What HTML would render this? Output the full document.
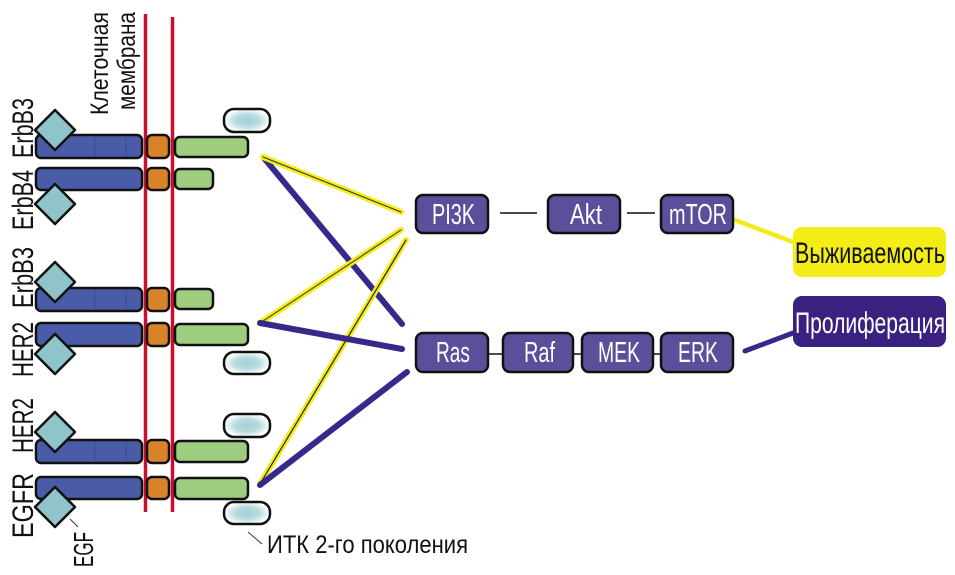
<!DOCTYPE html>
<html>
<head>
<meta charset="utf-8">
<style>
html,body{margin:0;padding:0;background:#fff;}
svg{display:block;}
text{font-family:"Liberation Sans Narrow","Liberation Sans",sans-serif;}
</style>
</head>
<body>
<svg width="955" height="575" viewBox="0 0 955 575" xmlns="http://www.w3.org/2000/svg">
<defs>
<radialGradient id="pg" cx="50%" cy="50%" r="50%">
<stop offset="0%" stop-color="#a4cfd6"/>
<stop offset="55%" stop-color="#b9dce0"/>
<stop offset="100%" stop-color="#ffffff"/>
</radialGradient>
</defs>

<!-- membrane -->
<line x1="145.5" y1="14" x2="145.5" y2="512" stroke="#c8102e" stroke-width="3.5"/>
<line x1="172.5" y1="17" x2="172.5" y2="512" stroke="#c8102e" stroke-width="3.5"/>

<g stroke="#111" stroke-width="2.5">
<!-- Row 1 ErbB3 -->
<rect x="36" y="135" width="106" height="23" rx="5" fill="#4a5ca8"/>
<line x1="95" y1="137" x2="95" y2="156" stroke="#3a4a95" stroke-width="1"/>
<line x1="126" y1="137" x2="126" y2="156" stroke="#3a4a95" stroke-width="1"/>
<rect x="147" y="135" width="22" height="23" rx="5" fill="#d8832a"/>
<rect x="175" y="137" width="73" height="20" rx="5" fill="#9fcd80"/>
<!-- Row 2 ErbB4 -->
<rect x="36" y="168" width="106" height="22" rx="5" fill="#4a5ca8"/>
<rect x="147" y="168" width="22" height="22" rx="5" fill="#d8832a"/>
<rect x="175" y="169" width="38" height="20" rx="5" fill="#9fcd80"/>
<!-- Row 3 ErbB3 -->
<rect x="36" y="288" width="106" height="23" rx="5" fill="#4a5ca8"/>
<line x1="95" y1="290" x2="95" y2="309" stroke="#3a4a95" stroke-width="1"/>
<line x1="126" y1="290" x2="126" y2="309" stroke="#3a4a95" stroke-width="1"/>
<rect x="147" y="288" width="22" height="23" rx="5" fill="#d8832a"/>
<rect x="175" y="289" width="38" height="20" rx="5" fill="#9fcd80"/>
<!-- Row 4 HER2 -->
<rect x="36" y="323" width="106" height="23" rx="5" fill="#4a5ca8"/>
<rect x="147" y="323" width="22" height="23" rx="5" fill="#d8832a"/>
<rect x="175" y="324" width="73" height="21" rx="5" fill="#9fcd80"/>
<!-- Row 5 HER2 -->
<rect x="36" y="440" width="106" height="23" rx="5" fill="#4a5ca8"/>
<line x1="95" y1="442" x2="95" y2="461" stroke="#3a4a95" stroke-width="1"/>
<line x1="126" y1="442" x2="126" y2="461" stroke="#3a4a95" stroke-width="1"/>
<rect x="147" y="440" width="22" height="23" rx="5" fill="#d8832a"/>
<rect x="175" y="441" width="73" height="21" rx="5" fill="#9fcd80"/>
<!-- Row 6 EGFR -->
<rect x="36" y="477" width="106" height="22" rx="5" fill="#4a5ca8"/>
<rect x="147" y="477" width="22" height="22" rx="5" fill="#d8832a"/>
<rect x="175" y="478" width="73" height="21" rx="5" fill="#9fcd80"/>

<!-- diamonds -->
<path d="M55 110 L75 130 L55 150 L35 130 Z" fill="#8ec4ca" stroke-linejoin="round"/>
<path d="M55 184 L75 204 L55 224 L35 204 Z" fill="#8ec4ca" stroke-linejoin="round"/>
<path d="M55 262 L75 282 L55 302 L35 282 Z" fill="#8ec4ca" stroke-linejoin="round"/>
<path d="M55 334 L75 354 L55 374 L35 354 Z" fill="#8ec4ca" stroke-linejoin="round"/>
<path d="M55 412 L75 432 L55 452 L35 432 Z" fill="#8ec4ca" stroke-linejoin="round"/>
<path d="M55 487 L75 507 L55 527 L35 507 Z" fill="#8ec4ca" stroke-linejoin="round"/>

<!-- pills -->
<rect x="224" y="109" width="46" height="23" rx="10" fill="url(#pg)"/>
<rect x="224" y="352" width="46" height="22" rx="10" fill="url(#pg)"/>
<rect x="224" y="414" width="46" height="23" rx="10" fill="url(#pg)"/>
<rect x="224" y="502" width="46" height="22" rx="10" fill="url(#pg)"/>
</g>

<!-- left connectors -->
<g stroke-linecap="round">
<line x1="264" y1="158" x2="402" y2="324" stroke="#35298c" stroke-width="6"/>
<line x1="263" y1="157" x2="401" y2="212" stroke="#f2ec1a" stroke-width="6"/>
<line x1="263" y1="157" x2="401" y2="212" stroke="#333" stroke-width="1"/>
<line x1="260" y1="323" x2="401" y2="230" stroke="#f2ec1a" stroke-width="6"/>
<line x1="260" y1="323" x2="401" y2="230" stroke="#333" stroke-width="1"/>
<line x1="260" y1="484" x2="406" y2="240" stroke="#f2ec1a" stroke-width="6"/>
<line x1="260" y1="484" x2="406" y2="240" stroke="#222" stroke-width="1.2"/>
<line x1="260" y1="323" x2="402" y2="349" stroke="#35298c" stroke-width="6"/>
<line x1="260" y1="485" x2="407" y2="372" stroke="#35298c" stroke-width="6"/>
<line x1="735" y1="220" x2="793" y2="242" stroke="#f2ec1a" stroke-width="4.5"/>
<line x1="745" y1="351" x2="793" y2="333" stroke="#35298c" stroke-width="5"/>
</g>

<!-- pathway connectors -->
<g stroke="#111" stroke-width="1.5">
<line x1="500" y1="213" x2="537" y2="213"/>
<line x1="627" y1="213" x2="655" y2="213"/>
<line x1="489" y1="354" x2="503" y2="354"/>
<line x1="573" y1="354" x2="582" y2="354"/>
<line x1="653" y1="354" x2="661" y2="354"/>
</g>

<!-- pathway boxes -->
<g stroke="#111" stroke-width="2.5" fill="#5b4e9b">
<rect x="416" y="195" width="72" height="38" rx="7"/>
<rect x="548" y="195" width="72" height="38" rx="7"/>
<rect x="661" y="195" width="72" height="38" rx="7"/>
<rect x="416" y="333" width="72" height="39" rx="7"/>
<rect x="503" y="333" width="70" height="39" rx="7"/>
<rect x="582" y="333" width="71" height="39" rx="7"/>
<rect x="661" y="333" width="72" height="39" rx="7"/>
</g>
<g fill="#fff" font-size="29">
<text x="432" y="224" textLength="43" lengthAdjust="spacingAndGlyphs">PI3K</text>
<text x="570" y="224" textLength="32" lengthAdjust="spacingAndGlyphs">Akt</text>
<text x="669" y="224" textLength="58" lengthAdjust="spacingAndGlyphs">mTOR</text>
<text x="436" y="362" textLength="34" lengthAdjust="spacingAndGlyphs">Ras</text>
<text x="524" y="362" textLength="31" lengthAdjust="spacingAndGlyphs">Raf</text>
<text x="598" y="362" textLength="42" lengthAdjust="spacingAndGlyphs">MEK</text>
<text x="678" y="362" textLength="40" lengthAdjust="spacingAndGlyphs">ERK</text>
</g>

<!-- outcomes -->
<rect x="793" y="227" width="153" height="50" rx="9" fill="#f3ec17"/>
<text x="795" y="263" font-size="30" fill="#111" textLength="150" lengthAdjust="spacingAndGlyphs">Выживаемость</text>
<rect x="793" y="296" width="153" height="51" rx="9" fill="#3a2180"/>
<text x="795" y="333" font-size="30" fill="#fff" textLength="150" lengthAdjust="spacingAndGlyphs">Пролиферация</text>

<!-- receptor labels -->
<g fill="#111" font-size="30">
<text transform="translate(33,158) rotate(-90)" textLength="60" lengthAdjust="spacingAndGlyphs">ErbB3</text>
<text transform="translate(33,230) rotate(-90)" textLength="60" lengthAdjust="spacingAndGlyphs">ErbB4</text>
<text transform="translate(33,308) rotate(-90)" textLength="61" lengthAdjust="spacingAndGlyphs">ErbB3</text>
<text transform="translate(33,377) rotate(-90)" textLength="55" lengthAdjust="spacingAndGlyphs">HER2</text>
<text transform="translate(33,453) rotate(-90)" textLength="55" lengthAdjust="spacingAndGlyphs">HER2</text>
<text transform="translate(33,538) rotate(-90)" textLength="65" lengthAdjust="spacingAndGlyphs">EGFR</text>
</g>
<g fill="#111" font-size="25">
<text transform="translate(108,115) rotate(-90)" textLength="103" lengthAdjust="spacingAndGlyphs">Клеточная</text>
<text transform="translate(135,110) rotate(-90)" textLength="98" lengthAdjust="spacingAndGlyphs">мембрана</text>
<text transform="translate(93,567) rotate(-90)" font-size="28" textLength="35" lengthAdjust="spacingAndGlyphs">EGF</text>
<text x="267" y="553" font-size="25" textLength="201" lengthAdjust="spacingAndGlyphs">ИТК 2-го поколения</text>
</g>
<g stroke="#333" stroke-width="1">
<line x1="70" y1="519" x2="78" y2="527"/>
<line x1="248" y1="532" x2="262" y2="544"/>
</g>
</svg>
</body>
</html>
